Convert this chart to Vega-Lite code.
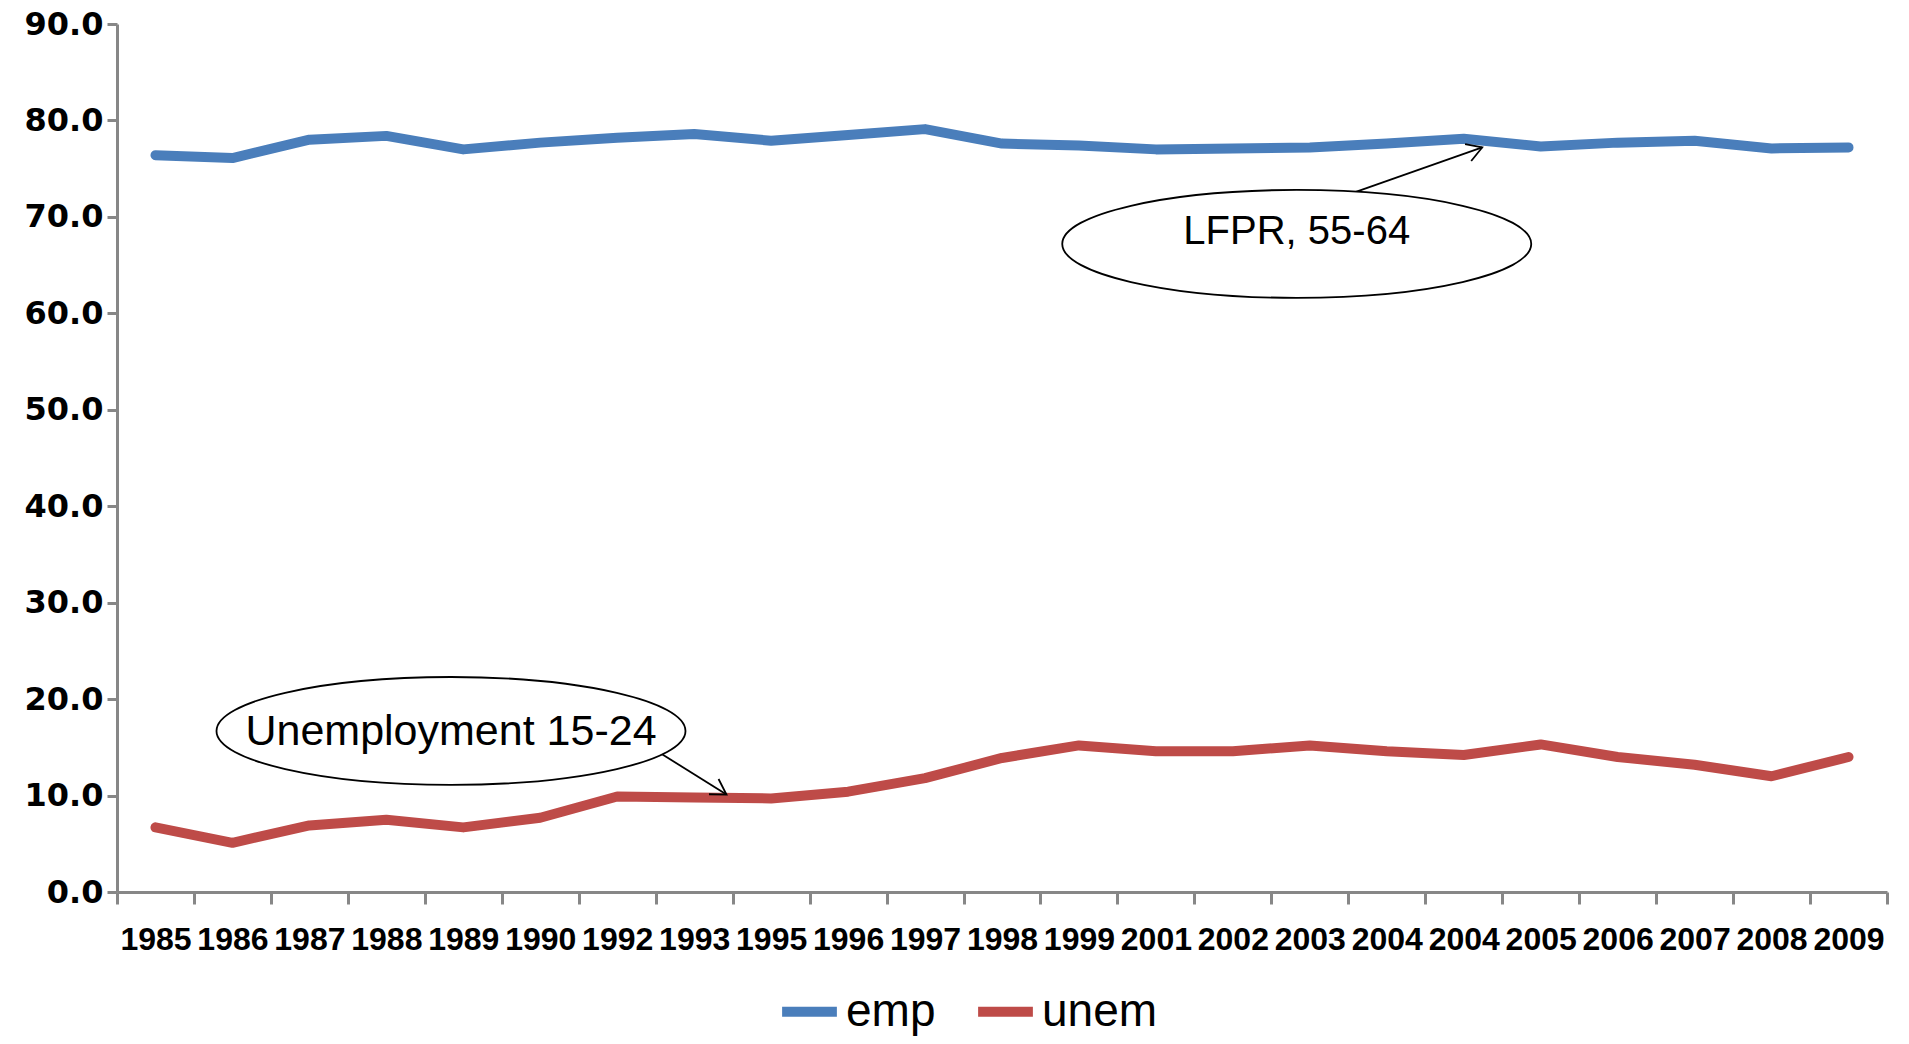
{
  "$schema": "https://vega.github.io/schema/vega-lite/v6.json",
  "autosize": "none",
  "width": 1770,
  "height": 868,
  "padding": {"left": 117, "top": 24, "right": 22, "bottom": 152},
  "background": "white",
  "config": {"view": {"stroke": null}},
  "datasets": {
    "series": [
      {"k": "1985", "series": "emp", "v": 76.4}, {"k": "1986", "series": "emp", "v": 76.1},
      {"k": "1987", "series": "emp", "v": 78.0}, {"k": "1988", "series": "emp", "v": 78.4},
      {"k": "1989", "series": "emp", "v": 77.0}, {"k": "1990", "series": "emp", "v": 77.7},
      {"k": "1992", "series": "emp", "v": 78.2}, {"k": "1993", "series": "emp", "v": 78.6},
      {"k": "1995", "series": "emp", "v": 77.9}, {"k": "1996", "series": "emp", "v": 78.5},
      {"k": "1997", "series": "emp", "v": 79.1}, {"k": "1998", "series": "emp", "v": 77.6},
      {"k": "1999", "series": "emp", "v": 77.4}, {"k": "2001", "series": "emp", "v": 77.0},
      {"k": "2002", "series": "emp", "v": 77.1}, {"k": "2003", "series": "emp", "v": 77.2},
      {"k": "2004a", "series": "emp", "v": 77.6}, {"k": "2004b", "series": "emp", "v": 78.1},
      {"k": "2005", "series": "emp", "v": 77.3}, {"k": "2006", "series": "emp", "v": 77.7},
      {"k": "2007", "series": "emp", "v": 77.9}, {"k": "2008", "series": "emp", "v": 77.1},
      {"k": "2009", "series": "emp", "v": 77.2},
      {"k": "1985", "series": "unem", "v": 6.7}, {"k": "1986", "series": "unem", "v": 5.1},
      {"k": "1987", "series": "unem", "v": 6.9}, {"k": "1988", "series": "unem", "v": 7.5},
      {"k": "1989", "series": "unem", "v": 6.7}, {"k": "1990", "series": "unem", "v": 7.7},
      {"k": "1992", "series": "unem", "v": 9.9}, {"k": "1993", "series": "unem", "v": 9.8},
      {"k": "1995", "series": "unem", "v": 9.7}, {"k": "1996", "series": "unem", "v": 10.4},
      {"k": "1997", "series": "unem", "v": 11.8}, {"k": "1998", "series": "unem", "v": 13.9},
      {"k": "1999", "series": "unem", "v": 15.2}, {"k": "2001", "series": "unem", "v": 14.6},
      {"k": "2002", "series": "unem", "v": 14.6}, {"k": "2003", "series": "unem", "v": 15.2},
      {"k": "2004a", "series": "unem", "v": 14.6}, {"k": "2004b", "series": "unem", "v": 14.2},
      {"k": "2005", "series": "unem", "v": 15.3}, {"k": "2006", "series": "unem", "v": 14.0},
      {"k": "2007", "series": "unem", "v": 13.2}, {"k": "2008", "series": "unem", "v": 12.0},
      {"k": "2009", "series": "unem", "v": 14.0}
    ],
    "ellipses": [
      {"ax": 15.33, "ay": 67.2, "label": "LFPR, 55-64", "ty": 68.4},
      {"ax": 4.34, "ay": 16.7, "label": "Unemployment 15-24", "ty": 16.6}
    ],
    "arrows": [
      {"name": "lfpr", "ax": 15.6, "ay": 71.2, "ax2": 17.74, "ay2": 77.2},
      {"name": "unem", "ax": 7.0, "ay": 14.7, "ax2": 7.92, "ay2": 10.1}
    ]
  },
  "layer": [
    {
      "data": {"name": "series"},
      "mark": {"type": "line", "strokeWidth": 10, "strokeCap": "round", "strokeJoin": "round"},
      "encoding": {
        "x": {
          "field": "k", "type": "ordinal", "sort": null,
          "scale": {"paddingInner": 0, "paddingOuter": 0},
          "axis": {
            "title": null,
            "labelAngle": 0,
            "labelExpr": "isString(datum.value) ? substring(datum.value, 0, 4) : ''",
            "tickBand": "extent",
            "domainColor": "#878787", "domainWidth": 3,
            "tickColor": "#878787", "tickWidth": 3, "tickSize": 12,
            "labelFont": "Liberation Sans", "labelFontWeight": "bold",
            "labelFontSize": 32, "labelColor": "black", "labelPadding": 20,
            "labelOverlap": false, "labelBound": false, "labelFlush": false
          }
        },
        "y": {
          "field": "v", "type": "quantitative",
          "scale": {"domain": [0, 90], "nice": false, "zero": true},
          "axis": {
            "title": null, "values": [0, 10, 20, 30, 40, 50, 60, 70, 80, 90],
            "format": ".1f", "grid": false,
            "domainColor": "#878787", "domainWidth": 3,
            "tickColor": "#878787", "tickWidth": 3, "tickSize": 10,
            "labelFont": "DejaVu Sans", "labelFontWeight": "bold",
            "labelFontSize": 32, "labelColor": "black", "labelPadding": 4
          }
        },
        "color": {
          "field": "series", "type": "nominal",
          "scale": {"domain": ["emp", "unem"], "range": ["#4A7EBB", "#BE4B48"]},
          "legend": {
            "title": null, "orient": "none", "direction": "horizontal",
            "legendX": 660, "legendY": 955,
            "symbolType": "stroke", "symbolStrokeWidth": 10, "symbolSize": 3000,
            "labelFont": "Liberation Sans", "labelFontSize": 46, "labelColor": "black",
            "columnPadding": 22, "labelOffset": 4
          }
        }
      }
    },
    {
      "data": {"name": "arrows"},
      "mark": {"type": "rule", "color": "black", "strokeWidth": 1.8},
      "encoding": {
        "x": {"field": "ax", "type": "quantitative", "scale": {"domain": [0, 23], "nice": false, "zero": false}, "axis": null},
        "y": {"field": "ay", "type": "quantitative"},
        "x2": {"field": "ax2"},
        "y2": {"field": "ay2"}
      }
    },
    {
      "data": {"name": "arrows"},
      "transform": [{"filter": "datum.name == 'lfpr'"}],
      "mark": {"type": "point", "shape": "M -1 -0.6 L 0 0 L -1 0.6", "filled": false, "stroke": "black", "strokeWidth": 1.8, "size": 900, "angle": -20, "opacity": 1},
      "encoding": {
        "x": {"field": "ax2", "type": "quantitative", "scale": {"domain": [0, 23], "nice": false, "zero": false}, "axis": null},
        "y": {"field": "ay2", "type": "quantitative"}
      }
    },
    {
      "data": {"name": "arrows"},
      "transform": [{"filter": "datum.name == 'unem'"}],
      "mark": {"type": "point", "shape": "M -1 -0.6 L 0 0 L -1 0.6", "filled": false, "stroke": "black", "strokeWidth": 1.8, "size": 900, "angle": 32, "opacity": 1},
      "encoding": {
        "x": {"field": "ax2", "type": "quantitative", "scale": {"domain": [0, 23], "nice": false, "zero": false}, "axis": null},
        "y": {"field": "ay2", "type": "quantitative"}
      }
    },
    {
      "data": {"name": "ellipses"},
      "mark": {"type": "point", "shape": "M -1 0 C -1 -0.127 -0.552 -0.23 0 -0.23 C 0.552 -0.23 1 -0.127 1 0 C 1 0.127 0.552 0.23 0 0.23 C -0.552 0.23 -1 0.127 -1 0 Z", "filled": true, "fill": "white", "stroke": "black", "strokeWidth": 1.8, "size": 219961, "opacity": 1, "fillOpacity": 1},
      "encoding": {
        "x": {"field": "ax", "type": "quantitative", "scale": {"domain": [0, 23], "nice": false, "zero": false}, "axis": null},
        "y": {"field": "ay", "type": "quantitative"}
      }
    },
    {
      "data": {"name": "ellipses"},
      "transform": [{"filter": "datum.ax > 10"}],
      "mark": {"type": "text", "font": "Liberation Sans", "fontSize": 40, "color": "black", "align": "center", "baseline": "middle"},
      "encoding": {
        "x": {"field": "ax", "type": "quantitative", "scale": {"domain": [0, 23], "nice": false, "zero": false}, "axis": null},
        "y": {"field": "ty", "type": "quantitative"},
        "text": {"field": "label"}
      }
    },
    {
      "data": {"name": "ellipses"},
      "transform": [{"filter": "datum.ax < 10"}],
      "mark": {"type": "text", "font": "Liberation Sans", "fontSize": 43, "color": "black", "align": "center", "baseline": "middle"},
      "encoding": {
        "x": {"field": "ax", "type": "quantitative", "scale": {"domain": [0, 23], "nice": false, "zero": false}, "axis": null},
        "y": {"field": "ty", "type": "quantitative"},
        "text": {"field": "label"}
      }
    }
  ],
  "resolve": {"scale": {"x": "independent"}, "axis": {"x": "independent"}}
}
